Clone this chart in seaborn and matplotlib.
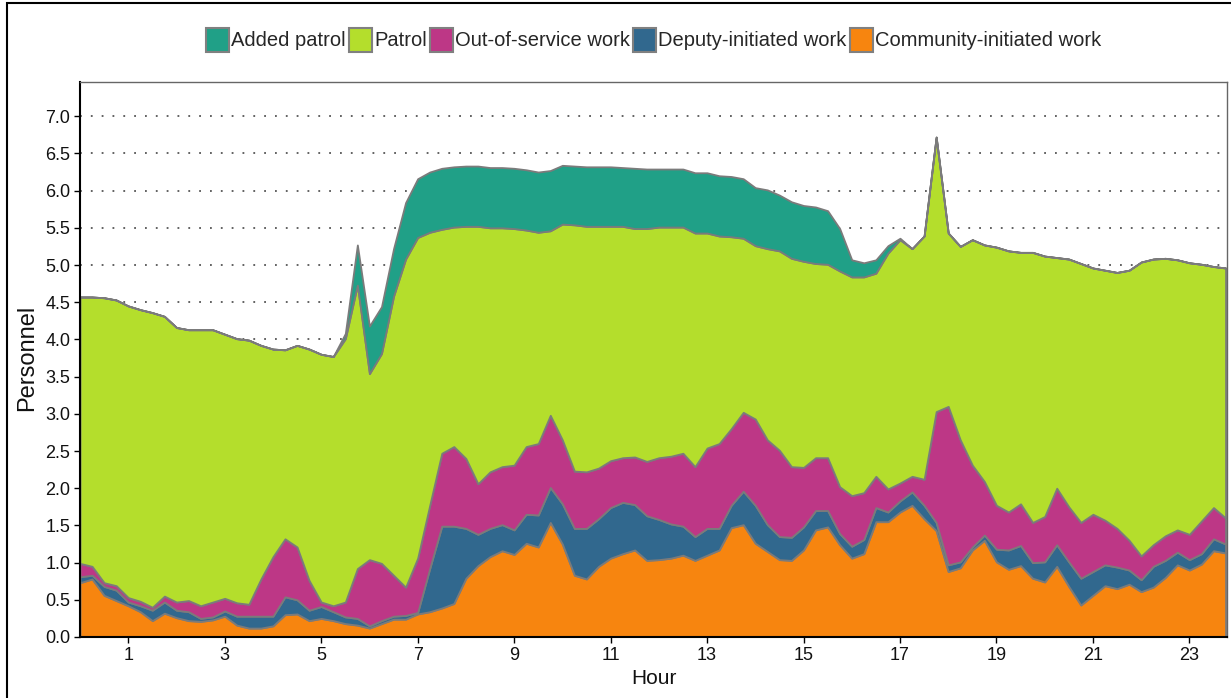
import matplotlib
matplotlib.use("Agg")
import matplotlib.pyplot as plt
from matplotlib.patches import Patch, Rectangle
import pandas as pd
import seaborn as sns

# Quarter-hour time of day (0:00 ... 23:45)
quarter_hours = [q / 4 for q in range(96)]

community_initiated = [
    0.73, 0.78, 0.56, 0.49, 0.42, 0.34, 0.22, 0.32, 0.26, 0.22, 0.21, 0.23,
    0.28, 0.16, 0.12, 0.12, 0.15, 0.30, 0.31, 0.22, 0.25, 0.22, 0.18, 0.16,
    0.12, 0.18, 0.24, 0.24, 0.31, 0.34, 0.39, 0.45, 0.79, 0.96, 1.08, 1.16,
    1.11, 1.26, 1.21, 1.54, 1.25, 0.83, 0.78, 0.95, 1.06, 1.12, 1.17, 1.03,
    1.04, 1.06, 1.10, 1.03, 1.10, 1.17, 1.47, 1.51, 1.26, 1.15, 1.04, 1.03,
    1.17, 1.44, 1.48, 1.24, 1.06, 1.12, 1.55, 1.55, 1.68, 1.77, 1.59, 1.43,
    0.88, 0.93, 1.17, 1.30, 1.01, 0.91, 0.96, 0.79, 0.74, 0.95, 0.68, 0.43,
    0.56, 0.69, 0.65, 0.71, 0.61, 0.67, 0.80, 0.97, 0.90, 0.98, 1.16, 1.13,
]
deputy_initiated = [
    0.08, 0.05, 0.12, 0.14, 0.05, 0.08, 0.14, 0.15, 0.10, 0.12, 0.04, 0.04,
    0.07, 0.12, 0.16, 0.16, 0.13, 0.24, 0.19, 0.14, 0.16, 0.12, 0.09, 0.09,
    0.03, 0.04, 0.04, 0.05, 0.02, 0.58, 1.10, 1.04, 0.67, 0.42, 0.38, 0.35,
    0.33, 0.39, 0.43, 0.47, 0.54, 0.63, 0.68, 0.64, 0.68, 0.69, 0.61, 0.60,
    0.54, 0.46, 0.39, 0.32, 0.36, 0.29, 0.30, 0.45, 0.51, 0.36, 0.31, 0.31,
    0.31, 0.26, 0.22, 0.15, 0.16, 0.19, 0.19, 0.13, 0.15, 0.18, 0.18, 0.11,
    0.09, 0.08, 0.04, 0.07, 0.17, 0.26, 0.27, 0.21, 0.27, 0.29, 0.33, 0.36,
    0.32, 0.28, 0.29, 0.19, 0.16, 0.28, 0.23, 0.17, 0.14, 0.14, 0.16, 0.12,
]
out_of_service = [
    0.18, 0.12, 0.05, 0.06, 0.06, 0.06, 0.04, 0.08, 0.11, 0.15, 0.17, 0.20,
    0.17, 0.18, 0.16, 0.50, 0.80, 0.78, 0.71, 0.40, 0.06, 0.08, 0.20, 0.67,
    0.89, 0.77, 0.55, 0.38, 0.73, 0.85, 0.98, 1.07, 0.94, 0.68, 0.76, 0.78,
    0.87, 0.91, 0.96, 0.97, 0.86, 0.77, 0.76, 0.68, 0.63, 0.60, 0.64, 0.73,
    0.83, 0.91, 0.98, 0.94, 1.08, 1.14, 1.03, 1.06, 1.16, 1.14, 1.16, 0.95,
    0.80, 0.71, 0.71, 0.63, 0.68, 0.63, 0.42, 0.31, 0.24, 0.21, 0.35, 1.49,
    2.13, 1.64, 1.10, 0.72, 0.59, 0.51, 0.56, 0.54, 0.61, 0.76, 0.74, 0.75,
    0.77, 0.60, 0.52, 0.40, 0.32, 0.29, 0.33, 0.30, 0.34, 0.44, 0.42, 0.35,
]
patrol = [
    3.58, 3.62, 3.83, 3.84, 3.92, 3.92, 3.96, 3.76, 3.69, 3.64, 3.71, 3.66,
    3.55, 3.55, 3.55, 3.14, 2.79, 2.54, 2.71, 3.11, 3.33, 3.35, 3.54, 3.81,
    2.50, 2.82, 3.75, 4.41, 4.31, 3.67, 3.01, 2.95, 3.12, 3.46, 3.28, 3.21,
    3.18, 2.91, 2.84, 2.48, 2.90, 3.31, 3.30, 3.25, 3.15, 3.11, 3.07, 3.13,
    3.10, 3.08, 3.04, 3.14, 2.89, 2.79, 2.58, 2.34, 2.33, 2.57, 2.68, 2.80,
    2.77, 2.61, 2.60, 2.90, 2.94, 2.90, 2.73, 3.17, 3.27, 3.06, 3.27, 3.69,
    2.33, 2.60, 3.03, 3.18, 3.47, 3.51, 3.38, 3.63, 3.50, 3.10, 3.33, 3.48,
    3.31, 3.36, 3.44, 3.63, 3.95, 3.84, 3.73, 3.63, 3.65, 3.45, 3.24, 3.36,
]
added_patrol = [
    0.00, 0.00, 0.00, 0.00, 0.00, 0.00, 0.00, 0.00, 0.00, 0.00, 0.00, 0.00,
    0.00, 0.00, 0.00, 0.00, 0.00, 0.00, 0.00, 0.00, 0.00, 0.00, 0.07, 0.54,
    0.64, 0.63, 0.64, 0.76, 0.79, 0.81, 0.82, 0.81, 0.81, 0.81, 0.81, 0.81,
    0.81, 0.81, 0.81, 0.81, 0.79, 0.79, 0.80, 0.80, 0.80, 0.79, 0.81, 0.80,
    0.78, 0.78, 0.78, 0.81, 0.81, 0.81, 0.81, 0.80, 0.78, 0.79, 0.75, 0.76,
    0.75, 0.76, 0.72, 0.57, 0.23, 0.19, 0.18, 0.10, 0.02, 0.00, 0.00, 0.00,
    0.00, 0.00, 0.00, 0.00, 0.00, 0.00, 0.00, 0.00, 0.00, 0.00, 0.00, 0.00,
    0.00, 0.00, 0.00, 0.00, 0.00, 0.00, 0.00, 0.00, 0.00, 0.00, 0.00, 0.00,
]

# Stack order, bottom to top
series_names = ["Community-initiated work", "Deputy-initiated work",
                "Out-of-service work", "Patrol", "Added patrol"]
series_colors = ["#F7850F", "#31688E", "#BD3786", "#B4DE2C", "#20A087"]

x_ticks = [1, 3, 5, 7, 9, 11, 13, 15, 17, 19, 21, 23]
y_ticks = [0.0, 0.5, 1.0, 1.5, 2.0, 2.5, 3.0, 3.5, 4.0, 4.5, 5.0, 5.5, 6.0, 6.5, 7.0]

df = pd.DataFrame({
    "Hour": quarter_hours,
    series_names[0]: community_initiated,
    series_names[1]: deputy_initiated,
    series_names[2]: out_of_service,
    series_names[3]: patrol,
    series_names[4]: added_patrol,
})

sns.set_theme(style="white")
plt.rcParams["font.family"] = ["Liberation Sans", "DejaVu Sans"]

fig = plt.figure(figsize=(12.31, 6.98), dpi=100)
ax = fig.add_axes([0.065, 0.0874, 0.93175, 0.79513])

ax.stackplot(df["Hour"], *[df[name] for name in series_names],
             colors=series_colors, edgecolor="#7b7b7b", linewidth=1.3,
             zorder=2)

ax.set_xlim(0, 23.78)
ax.set_ylim(0, 7.46)
ax.set_xticks(x_ticks)
ax.set_xticklabels([str(t) for t in x_ticks])
ax.set_yticks(y_ticks)
ax.set_yticklabels([f"{t:.1f}" for t in y_ticks])

ax.yaxis.grid(True, linestyle=(0, (1, 5)), color="#555555", linewidth=1.3)
ax.xaxis.grid(False)
ax.set_axisbelow(True)

ax.tick_params(axis="both", which="major", direction="out", length=4,
               width=1, color="black", labelsize=13, labelcolor="#111111",
               pad=3, left=True, bottom=True)

for side in ("left", "bottom"):
    ax.spines[side].set_color("black")
    ax.spines[side].set_linewidth(1.5)
for side in ("top", "right"):
    ax.spines[side].set_color("#666666")
    ax.spines[side].set_linewidth(1.0)

ax.set_ylabel("Personnel", fontsize=17, color="#111111")
ax.yaxis.set_label_coords(-0.0366, 0.503)
ax.set_xlabel("Hour", fontsize=15, color="#111111")
ax.xaxis.set_label_coords(0.5004, -0.058)

# Legend lists the top of the stack first
handles = [Patch(facecolor=c, edgecolor="#808080", linewidth=1.5)
           for c in series_colors[::-1]]
fig.legend(handles, series_names[::-1], loc="center",
           bbox_to_anchor=(0.531, 0.943), ncol=5, frameon=False,
           fontsize=14.5, handlelength=1.15, handleheight=1.45,
           handletextpad=0.1, columnspacing=0.15, borderaxespad=0)

# Figure frame
fig.add_artist(Rectangle((7 / 1231, -0.1), 2.0, 1.1 - 3 / 698,
                         transform=fig.transFigure, fill=False,
                         edgecolor="black", linewidth=1.5))

fig.savefig("out.png", dpi=100)
